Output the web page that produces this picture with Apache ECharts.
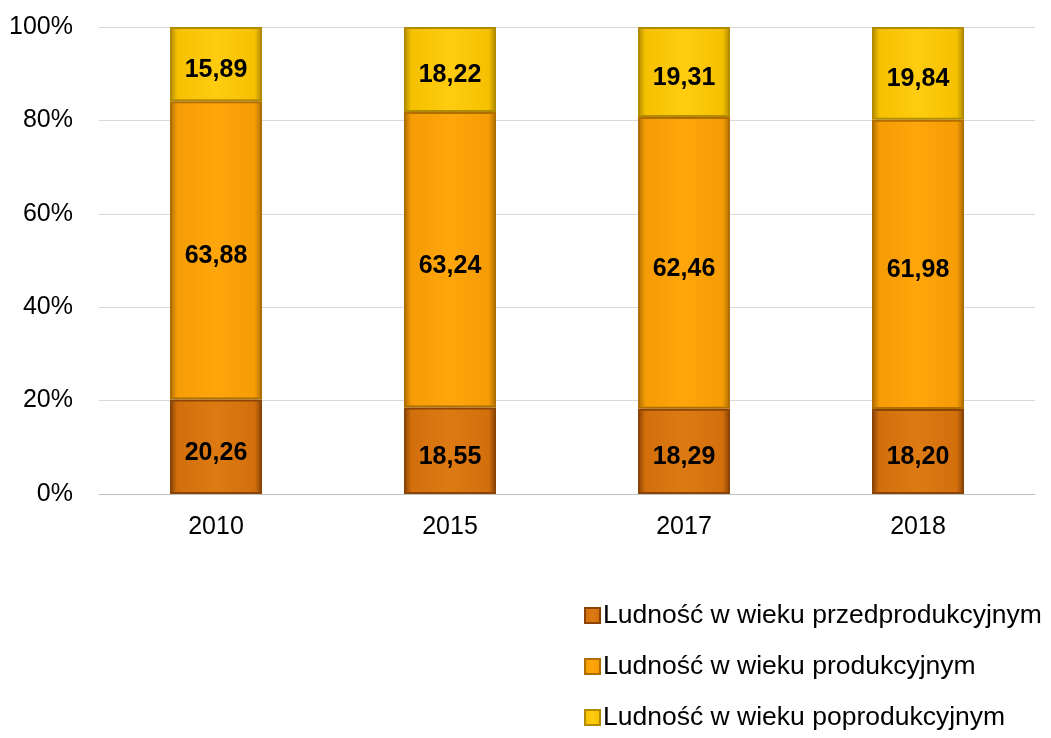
<!DOCTYPE html>
<html>
<head>
<meta charset="utf-8">
<script src="https://cdn.jsdelivr.net/npm/echarts@6/dist/echarts.min.js"></script>
<style>
  html, body { margin: 0; padding: 0; background: #fff; }
  #chart { width: 1051px; height: 738px; }
</style>
</head>
<body>
<div id="chart"></div>
<script>
// dane z wykresu (udział grup wieku w %)
const years = ["2010", "2015", "2017", "2018"];
const przedprodukcyjny = [20.26, 18.55, 18.29, 18.20];
const produkcyjny = [63.88, 63.24, 62.46, 61.98];
const poprodukcyjny = [15.89, 18.22, 19.31, 19.84];
const seriesNames = [
  "Ludność w wieku przedprodukcyjnym",
  "Ludność w wieku produkcyjnym",
  "Ludność w wieku poprodukcyjnym"
];
const yTicks = [0, 20, 40, 60, 80, 100];

const totals = years.map((_, i) => przedprodukcyjny[i] + produkcyjny[i] + poprodukcyjny[i]);

const bevel = (dark, mid, light) => new echarts.graphic.LinearGradient(0, 0, 1, 0, [
  { offset: 0, color: dark },
  { offset: 0.08, color: mid },
  { offset: 0.5, color: light },
  { offset: 0.92, color: mid },
  { offset: 1, color: dark }
]);

const makeSeries = (name, values, colors) => ({
  name: name,
  type: "bar",
  stack: "total",
  barWidth: 92,
  data: values.map((v, i) => ({ value: v / totals[i] * 100, raw: v })),
  itemStyle: {
    color: bevel(colors[0], colors[1], colors[2]),
    borderColor: colors[0],
    borderWidth: 2
  },
  label: {
    show: true,
    position: "inside",
    offset: [0, 6],
    color: "#000",
    fontWeight: "bold",
    fontSize: 25,
    fontFamily: "Liberation Sans, Arial, sans-serif",
    formatter: (p) => p.data.raw.toFixed(2).replace(".", ",")
  }
});

const chart = echarts.init(document.getElementById("chart"));
chart.setOption({
  animation: false,
  textStyle: { fontFamily: "Liberation Sans, Arial, sans-serif" },
  grid: { left: 99, right: 16, top: 27, bottom: 244, containLabel: false },
  legend: {
    orient: "vertical",
    left: 584,
    top: 602,
    height: 160,
    padding: 0,
    itemWidth: 15,
    itemHeight: 15,
    itemGap: 24,
    icon: "rect",
    textStyle: { fontSize: 26.5, lineHeight: 26, color: "#000", padding: [0, 0, 0, -2] },
    data: seriesNames
  },
  xAxis: {
    type: "category",
    data: years,
    axisLine: { lineStyle: { color: "#BFBFBF", width: 1 } },
    axisTick: { show: false },
    axisLabel: { fontSize: 25, color: "#000", margin: 21 }
  },
  yAxis: {
    type: "value",
    min: yTicks[0],
    max: yTicks[yTicks.length - 1],
    interval: 20,
    axisLine: { show: false },
    axisTick: { show: false },
    splitLine: { lineStyle: { color: "#D9D9D9", width: 1 } },
    axisLabel: { fontSize: 25, color: "#000", margin: 26, formatter: "{value}%" }
  },
  series: [
    makeSeries(seriesNames[0], przedprodukcyjny, ["#8A4406", "#D26F0C", "#DE7A12"]),
    makeSeries(seriesNames[1], produkcyjny, ["#B06E00", "#F59C06", "#FFA60C"]),
    makeSeries(seriesNames[2], poprodukcyjny, ["#B28B00", "#F5C000", "#FFCC10"])
  ]
});
</script>
</body>
</html>
